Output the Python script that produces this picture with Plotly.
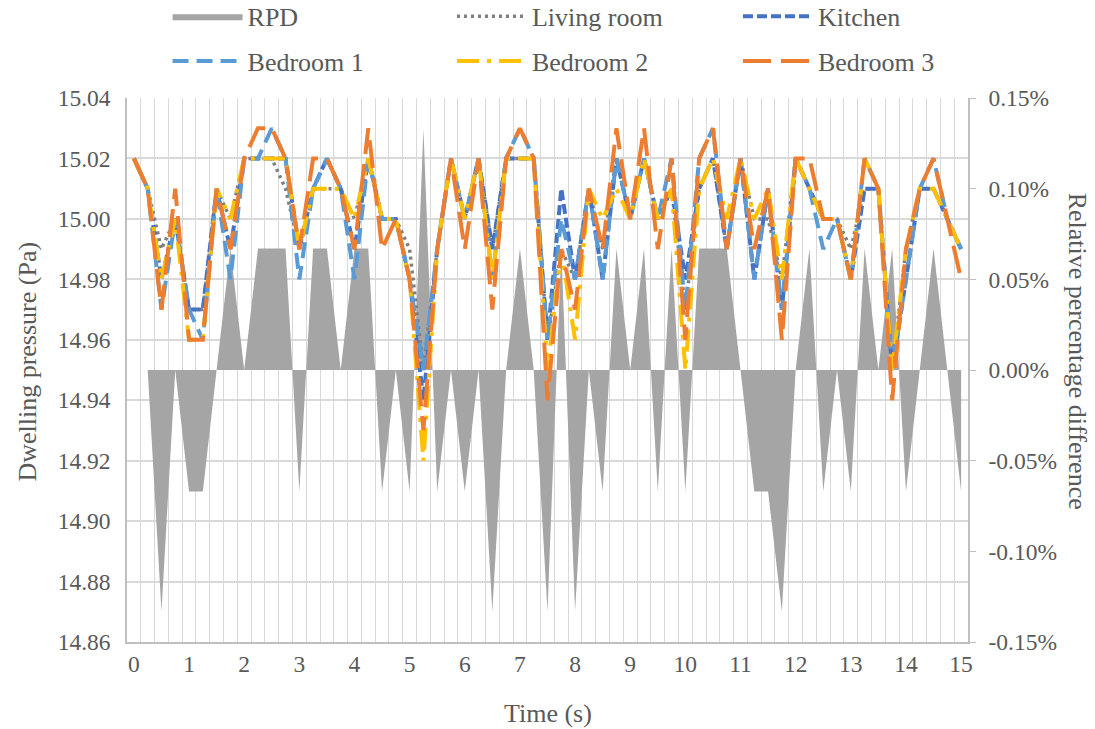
import plotly.graph_objects as go

# Sampling instants (s): 61 samples, 0.25 s apart
time_s = [round(k * 0.25, 2) for k in range(61)]

living_room = [15.02, 15.01, 14.99, 15.00, 14.97, 14.97, 15.01, 15.00, 15.02, 15.02,
               15.02, 15.01, 14.99, 15.01, 15.01, 15.01, 15.00, 15.02, 15.00, 15.00,
               14.99, 14.95, 14.99, 15.02, 15.00, 15.02, 14.99, 15.02, 15.02, 15.02,
               14.96, 14.99, 14.98, 15.01, 14.99, 15.02, 15.00, 15.02, 15.00, 15.01,
               14.97, 15.01, 15.02, 14.99, 15.02, 15.00, 15.00, 14.98, 15.02, 15.01,
               15.00, 15.00, 14.99, 15.01, 15.01, 14.95, 14.99, 15.01, 15.01, 15.00,
               14.99]
kitchen = [15.02, 15.01, 14.98, 15.00, 14.97, 14.97, 15.01, 14.99, 15.02, 15.02,
           15.02, 15.02, 14.99, 15.01, 15.02, 15.01, 14.99, 15.02, 15.00, 15.00,
           14.98, 14.94, 14.99, 15.02, 15.00, 15.02, 14.99, 15.02, 15.02, 15.02,
           14.96, 15.01, 14.98, 15.01, 14.98, 15.02, 15.00, 15.02, 15.00, 15.01,
           14.98, 15.01, 15.02, 14.99, 15.02, 14.98, 15.01, 14.97, 15.02, 15.01,
           15.00, 15.00, 14.98, 15.01, 15.01, 14.95, 14.98, 15.01, 15.01, 15.00,
           14.99]
bedroom_1 = [15.02, 15.01, 14.97, 15.00, 14.97, 14.96, 15.01, 14.98, 15.02, 15.02,
             15.03, 15.02, 14.98, 15.01, 15.02, 15.01, 14.98, 15.02, 15.00, 15.00,
             14.98, 14.95, 14.99, 15.02, 15.00, 15.02, 14.98, 15.02, 15.03, 15.02,
             14.96, 15.00, 14.98, 15.01, 14.98, 15.02, 15.00, 15.02, 15.00, 15.02,
             14.97, 15.02, 15.03, 14.99, 15.02, 14.98, 15.01, 14.97, 15.02, 15.01,
             14.99, 15.00, 14.98, 15.02, 15.01, 14.95, 14.98, 15.01, 15.02, 15.00,
             14.99]
bedroom_2 = [15.02, 15.01, 14.98, 15.00, 14.96, 14.96, 15.01, 15.00, 15.02, 15.02,
             15.02, 15.02, 14.99, 15.01, 15.01, 15.01, 15.00, 15.02, 15.00, 15.00,
             14.98, 14.92, 14.99, 15.02, 15.00, 15.02, 14.98, 15.02, 15.02, 15.02,
             14.95, 14.99, 14.96, 15.01, 15.00, 15.01, 15.00, 15.02, 15.00, 15.01,
             14.95, 15.01, 15.02, 15.00, 15.02, 15.00, 15.01, 14.98, 15.02, 15.01,
             15.00, 15.00, 14.98, 15.02, 15.01, 14.95, 14.99, 15.01, 15.01, 15.00,
             14.99]
bedroom_3 = [15.02, 15.01, 14.97, 15.01, 14.96, 14.96, 15.01, 14.99, 15.02, 15.03,
             15.03, 15.02, 14.99, 15.02, 15.02, 15.01, 14.99, 15.03, 14.99, 15.00,
             14.98, 14.93, 14.99, 15.02, 14.99, 15.02, 14.97, 15.02, 15.03, 15.02,
             14.94, 14.99, 14.97, 15.01, 14.99, 15.03, 15.00, 15.03, 14.99, 15.02,
             14.96, 15.02, 15.03, 14.99, 15.02, 14.99, 15.01, 14.96, 15.02, 15.02,
             15.00, 15.00, 14.98, 15.02, 15.01, 14.94, 14.99, 15.01, 15.02, 15.00,
             14.98]
# Relative percentage difference (%)
rpd = [0, 0, -0.133, 0, -0.067, -0.067, 0, 0.067, 0, 0.067,
       0.067, 0.067, -0.067, 0.067, 0.067, 0, 0.067, 0.067, -0.067, 0,
       -0.067, 0.133, -0.067, 0, -0.067, 0, -0.133, 0, 0.067, 0,
       -0.133, 0.067, -0.133, 0, -0.067, 0.067, 0, 0.067, -0.067, 0.067,
       -0.067, 0.067, 0.067, 0.067, 0, -0.067, -0.067, -0.133, 0, 0.067,
       -0.067, 0, -0.067, 0.067, 0, 0.067, -0.067, 0, 0.067, 0,
       -0.067]

x_ticks = list(range(16))
p_ticks = [14.86, 14.88, 14.90, 14.92, 14.94, 14.96, 14.98, 15.00, 15.02, 15.04]
p_labels = ["14.86", "14.88", "14.90", "14.92", "14.94", "14.96", "14.98", "15.00", "15.02", "15.04"]
rpd_ticks = [-0.15, -0.10, -0.05, 0.0, 0.05, 0.10, 0.15]
rpd_labels = ["-0.15%", "-0.10%", "-0.05%", "0.00%", "0.05%", "0.10%", "0.15%"]

FONT = "Liberation Serif"
TXT = "#595959"
GRID = "#d9d9d9"
AXIS = "#bfbfbf"
TICK_SIZE = 23.5
TITLE_SIZE = 26
LEGEND_SIZE = 26

fig = go.Figure()

fig.add_trace(go.Scatter(
    x=time_s, y=rpd, name="RPD", mode="lines", fill="tozeroy",
    fillcolor="#a5a5a5", line=dict(color="#a5a5a5", width=0),
    yaxis="y", legend="legend"))

# name, values, colour, dash pattern, width, legend slot
series = [
    ("Living room", living_room, "#7f7f7f", "3px,4px", 3.5, "legend2"),
    ("Kitchen", kitchen, "#4472c4", "10px,4px", 4, "legend3"),
    ("Bedroom 1", bedroom_1, "#5b9bd5", "16px,8px", 4, "legend4"),
    ("Bedroom 2", bedroom_2, "#ffc000", "22px,8px,4px,8px", 4, "legend5"),
    ("Bedroom 3", bedroom_3, "#ed7d31", "28px,10px", 4, "legend6"),
]
for name, vals, color, dash, w, leg in series:
    fig.add_trace(go.Scatter(
        x=time_s, y=vals, name=name, mode="lines",
        line=dict(color=color, width=w, dash=dash),
        yaxis="y2", legend=leg))

# Legend grid: 3 columns x 2 rows above the plot
col_x = [0.0482, 0.3864, 0.7265]
row_y = [1.150, 1.068]
legend_layout = {}
for k in range(6):
    key = "legend" if k == 0 else f"legend{k + 1}"
    legend_layout[key] = dict(
        x=col_x[k % 3], y=row_y[k // 3], xanchor="left", yanchor="middle",
        orientation="h", itemwidth=70,
        font=dict(family=FONT, size=LEGEND_SIZE, color=TXT),
        bgcolor="rgba(0,0,0,0)")

fig.update_layout(
    width=1095, height=729,
    margin=dict(l=127, r=127, t=98, b=87, autoexpand=False),
    paper_bgcolor="white", plot_bgcolor="white",
    font=dict(family=FONT, color=TXT),
    showlegend=True,
    **legend_layout,
    xaxis=dict(
        range=[-0.125, 15.125], tickmode="array", tickvals=x_ticks,
        ticktext=[str(t) for t in x_ticks], showgrid=False,
        ticks="", tickfont=dict(family=FONT, size=TICK_SIZE, color=TXT),
        showline=True, linecolor=AXIS, linewidth=1.5, zeroline=False,
        minor=dict(tick0=0.125, dtick=0.25, showgrid=True,
                   gridcolor=GRID, gridwidth=1.3),
    ),
    yaxis=dict(
        range=[-0.15, 0.15], side="right", tickmode="array",
        tickvals=rpd_ticks, ticktext=rpd_labels, showgrid=False,
        zeroline=False, ticks="outside", ticklen=6, tickcolor=AXIS,
        ticklabelstandoff=8,
        tickfont=dict(family=FONT, size=TICK_SIZE, color=TXT),
        showline=True, linecolor=AXIS, linewidth=1.5,
    ),
    yaxis2=dict(
        range=[14.86, 15.04], overlaying="y", side="left", tickmode="array",
        tickvals=p_ticks, ticktext=p_labels, showgrid=True,
        gridcolor=GRID, gridwidth=2, zeroline=False, ticks="",
        ticklabelstandoff=10,
        tickfont=dict(family=FONT, size=TICK_SIZE, color=TXT),
        showline=True, linecolor=AXIS, linewidth=1.5,
    ),
    annotations=[
        dict(text="Time (s)", xref="paper", yref="paper", x=0.5, y=-0.132,
             xanchor="center", yanchor="middle", showarrow=False,
             font=dict(family=FONT, size=TITLE_SIZE, color=TXT)),
        dict(text="Dwelling pressure (Pa)", xref="paper", yref="paper",
             x=-0.118, y=0.515, textangle=-90, xanchor="center", yanchor="middle",
             showarrow=False, font=dict(family=FONT, size=TITLE_SIZE, color=TXT)),
        dict(text="Relative percentage difference", xref="paper", yref="paper",
             x=1.13, y=0.535, textangle=90, xanchor="center", yanchor="middle",
             showarrow=False, font=dict(family=FONT, size=TITLE_SIZE, color=TXT)),
    ],
)

fig.write_html("out.html")
